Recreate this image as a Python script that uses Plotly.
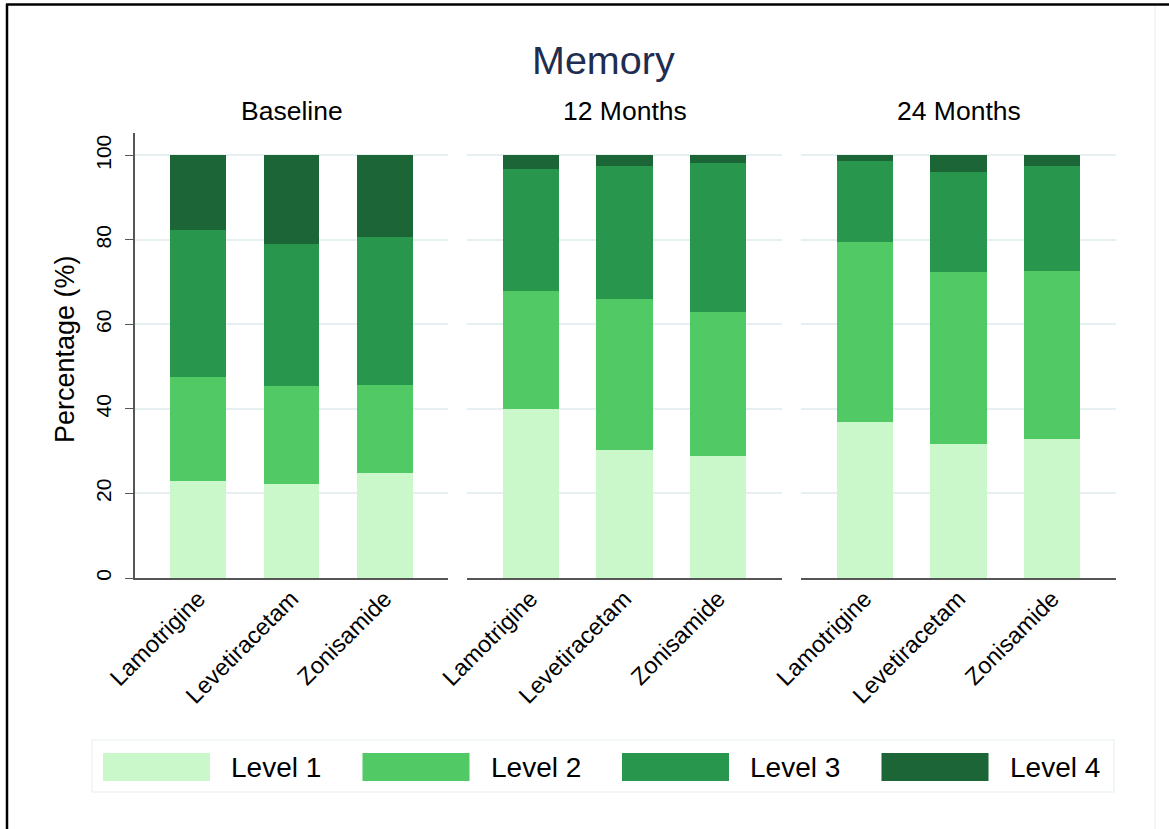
import plotly.graph_objects as go

# Stacked shares (%) of each memory level, by drug and visit
drugs = ["Lamotrigine", "Levetiracetam", "Zonisamide"]
visits = ["Baseline", "12 Months", "24 Months"]
levels = ["Level 1", "Level 2", "Level 3", "Level 4"]

level1 = [[23.0, 22.2, 24.8], [40.0, 30.3, 28.8], [36.8, 31.6, 33.0]]
level2 = [[24.6, 23.2, 20.9], [27.8, 35.7, 34.1], [42.6, 40.7, 39.6]]
level3 = [[34.7, 33.7, 35.0], [29.1, 31.4, 35.2], [19.3, 23.8, 24.8]]
level4 = [[17.7, 20.9, 19.3], [3.1, 2.6, 1.9], [1.3, 3.9, 2.6]]

colors = ["#cbf8cb", "#51c965", "#28974d", "#1b6536"]
y_ticks = [0, 20, 40, 60, 80, 100]

W, H = 1169, 829
FONT = "Liberation Sans, Arial, sans-serif"


def px(x):
    return x / W


def py(y):
    return 1 - y / H


panels_px = [(135, 448), (467, 782), (801, 1116)]
plot_top, plot_bottom = 133, 578

fig = go.Figure()
series = [level1, level2, level3, level4]
for p in range(3):
    xa = "x" if p == 0 else f"x{p + 1}"
    ya = "y" if p == 0 else f"y{p + 1}"
    for k, vals in enumerate(series):
        fig.add_trace(go.Bar(
            x=drugs, y=vals[p], name=levels[k],
            marker=dict(color=colors[k], line=dict(width=0)),
            width=0.6, xaxis=xa, yaxis=ya, showlegend=False,
        ))

layout = dict(
    width=W, height=H, barmode="stack", showlegend=False,
    margin=dict(l=0, r=0, t=0, b=0, pad=0, autoexpand=False),
    paper_bgcolor="white", plot_bgcolor="white",
    font=dict(family=FONT, color="black"),
)
for p, (x0, x1) in enumerate(panels_px):
    sx = "" if p == 0 else str(p + 1)
    layout["xaxis" + sx] = dict(
        domain=[px(x0), px(x1)], anchor="y" + sx, type="category",
        range=[-0.68, 2.68], showline=True, linecolor="#555555", linewidth=1.5,
        ticks="", tickangle=-45, tickfont=dict(size=23.5, family=FONT),
        ticklabelstandoff=-4,
        showgrid=False, fixedrange=True, automargin=False,
    )
    layout["yaxis" + sx] = dict(
        domain=[py(plot_bottom), py(plot_top)], anchor="x" + sx,
        range=[0, 105.3], tickvals=y_ticks, automargin=False,
        showgrid=True, gridcolor="#e6eff1", gridwidth=1.5, zeroline=False,
        showline=(p == 0), linecolor="#555555", linewidth=1.5,
        ticks="outside" if p == 0 else "", ticklen=8, tickcolor="#555555",
        showticklabels=(p == 0), tickangle=-90,
        tickfont=dict(size=21, family=FONT), ticklabelstandoff=6,
    )
fig.update_layout(**layout)

annotations = [
    dict(text="Memory", x=px(603), y=py(60), xref="paper", yref="paper",
         showarrow=False, font=dict(size=39.5, color="#1f2d50", family=FONT),
         xanchor="center", yanchor="middle"),
    dict(text="Percentage (%)", x=px(65), y=py(349), xref="paper", yref="paper",
         showarrow=False, textangle=-90, font=dict(size=27, family=FONT),
         xanchor="center", yanchor="middle"),
]
for p, (x0, x1) in enumerate(panels_px):
    annotations.append(dict(
        text=visits[p], x=px((x0 + x1) / 2), y=py(111), xref="paper", yref="paper",
        showarrow=False, font=dict(size=26.5, family=FONT),
        xanchor="center", yanchor="middle"))

shapes = [
    # outer frame
    dict(type="line", xref="paper", yref="paper", x0=px(6), x1=1, y0=py(4.5), y1=py(4.5),
         line=dict(color="black", width=2.5)),
    dict(type="line", xref="paper", yref="paper", x0=px(7), x1=px(7), y0=py(4), y1=0,
         line=dict(color="black", width=2.5)),
    dict(type="line", xref="paper", yref="paper", x0=px(1155), x1=px(1155), y0=py(6), y1=0,
         line=dict(color="#e6eeee", width=1)),
    # legend box
    dict(type="rect", xref="paper", yref="paper", x0=px(92), x1=px(1114),
         y0=py(792), y1=py(740), line=dict(color="#e8f0f0", width=1.2),
         fillcolor="white", layer="below"),
]
for i, lev in enumerate(levels):
    sx0 = 103 + 259.5 * i
    shapes.append(dict(type="rect", xref="paper", yref="paper",
                       x0=px(sx0), x1=px(sx0 + 107), y0=py(781), y1=py(753),
                       fillcolor=colors[i], line=dict(width=0)))
    annotations.append(dict(text=lev, x=px(229 + 259.5 * i), y=py(767),
                            xref="paper", yref="paper", showarrow=False,
                            xanchor="left", yanchor="middle",
                            font=dict(size=28, family=FONT)))

fig.update_layout(annotations=annotations, shapes=shapes)
fig.write_html("out.html")
